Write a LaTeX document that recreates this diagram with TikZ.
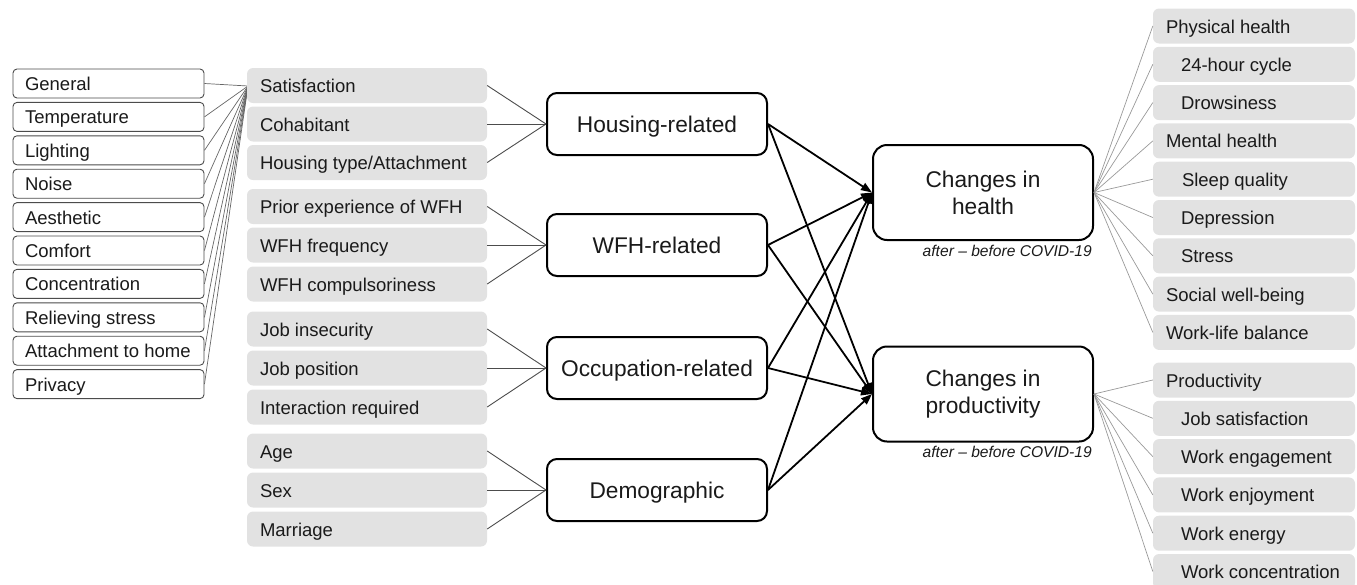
\documentclass[tikz,border=0pt]{standalone}
\usepackage{fontspec}
\setmainfont{Liberation Sans}
\usetikzlibrary{arrows.meta}
\definecolor{boxgray}{HTML}{E2E2E2}
\definecolor{txt}{HTML}{1A1A1A}
\newcommand{\lw}[2]{\makebox[#1][l]{#2}}
\begin{document}
\begin{tikzpicture}[x=1pt,y=-1pt,
  wbox/.style={draw=black!70, line width=0.9pt, rounded corners=4pt, fill=white,
    minimum height=29pt, inner xsep=12pt, inner ysep=0pt,
    text height=15.3pt, text depth=1.3pt,
    font=\fontsize{18.5}{20}\selectfont, text=txt},
  gbox/.style={fill=boxgray, rounded corners=6pt, minimum height=35pt,
    inner xsep=13pt, inner ysep=0pt, text height=15.3pt, text depth=1.3pt,
    font=\fontsize{18.5}{20}\selectfont, text=txt},
  rbox/.style={gbox},
  mbase/.style={draw=black, line width=2pt, fill=white,
    minimum width=220pt, inner sep=0pt,
    font=\fontsize{22.7}{27}\selectfont, text=txt},
  mbox/.style={mbase, rounded corners=10pt, minimum height=62pt,
    text height=19.5pt, text depth=2.1pt},
  bbox/.style={mbase, minimum height=95pt, rounded corners=14pt, align=center},
  captext/.style={anchor=east, inner sep=0pt, font=\fontsize{15.6}{18}\selectfont\itshape, text=txt},
  lfan/.style={draw=black!60, line width=0.7pt},
  gline/.style={draw=black!70, line width=0.9pt},
  rfan/.style={draw=black!40, line width=0.7pt},
  arr/.style={draw=black, line width=1.8pt, -{Triangle[length=11pt,width=8pt]}}
]
\clip (0,0) rectangle (1357,584);

% left white boxes
\foreach \t [count=\i] in {General,Temperature,Lighting,Noise,Aesthetic,Comfort,Concentration,Relieving stress,Attachment to home,Privacy}
  \node[wbox] (l\i) at (108.5, 50.1+33.4*\i) {\lw{167pt}{\t}};
\coordinate (cv) at (248,86);
\foreach \i in {1,...,10} \draw[lfan] (l\i.east) -- (cv);

% grey factor boxes
\node[gbox] (g1)  at (367,85.5) {\lw{214pt}{Satisfaction}};
\node[gbox] (g2)  at (367,124)  {\lw{214pt}{Cohabitant}};
\node[gbox] (g3)  at (367,162.5){\lw{214pt}{Housing type/Attachment}};
\node[gbox] (g4)  at (367,206.5){\lw{214pt}{Prior experience of WFH}};
\node[gbox] (g5)  at (367,245)  {\lw{214pt}{WFH frequency}};
\node[gbox] (g6)  at (367,284)  {\lw{214pt}{WFH compulsoriness}};
\node[gbox] (g7)  at (367,329)  {\lw{214pt}{Job insecurity}};
\node[gbox] (g8)  at (367,368)  {\lw{214pt}{Job position}};
\node[gbox] (g9)  at (367,407)  {\lw{214pt}{Interaction required}};
\node[gbox] (g10) at (367,451)  {\lw{214pt}{Age}};
\node[gbox] (g11) at (367,490)  {\lw{214pt}{Sex}};
\node[gbox] (g12) at (367,529)  {\lw{214pt}{Marriage}};

% middle category boxes
\node[mbox] (m1) at (657,124) {Housing-related};
\node[mbox] (m2) at (657,245) {WFH-related};
\node[mbox] (m3) at (657,368) {Occupation-related};
\node[mbox] (m4) at (657,490) {Demographic};

\foreach \i in {1,2,3} \draw[gline] (g\i.east) -- (m1.west);
\foreach \i in {4,5,6} \draw[gline] (g\i.east) -- (m2.west);
\foreach \i in {7,8,9} \draw[gline] (g\i.east) -- (m3.west);
\foreach \i in {10,11,12} \draw[gline] (g\i.east) -- (m4.west);

% outcome boxes
\node[bbox] (H) at (983,192.5) {Changes in\\health};
\node[bbox] (P) at (983,394) {Changes in\\productivity};
\node[captext] (c1) at (1092,251) {after -- before COVID-19};
\node[captext] (c2) at (1092,452) {after -- before COVID-19};

\foreach \i in {1,...,4} {
  \draw[arr] (m\i.east) -- (H.west);
  \draw[arr] (m\i.east) -- (P.west);
}

% right boxes: health
\node[rbox] (r1) at (1254,26)    {\lw{176pt}{Physical health}};
\node[rbox] (r2) at (1254,64.3)  {\lw{176pt}{\hspace*{15pt}24-hour cycle}};
\node[rbox] (r3) at (1254,102.6) {\lw{176pt}{\hspace*{15pt}Drowsiness}};
\node[rbox] (r4) at (1254,140.9) {\lw{176pt}{Mental health}};
\node[rbox] (r5) at (1254,179.2) {\lw{176pt}{\hspace*{16pt}Sleep quality}};
\node[rbox] (r6) at (1254,217.5) {\lw{176pt}{\hspace*{15pt}Depression}};
\node[rbox] (r7) at (1254,255.8) {\lw{176pt}{\hspace*{15pt}Stress}};
\node[rbox] (r8) at (1254,294.1) {\lw{176pt}{Social well-being}};
\node[rbox] (r9) at (1254,332.4) {\lw{176pt}{Work-life balance}};
\foreach \i in {1,...,9} \draw[rfan] (H.east) -- (r\i.west);

% right boxes: productivity
\node[rbox] (s1) at (1254,380)   {\lw{176pt}{Productivity}};
\node[rbox] (s2) at (1254,418.3) {\lw{176pt}{\hspace*{15pt}Job satisfaction}};
\node[rbox] (s3) at (1254,456.6) {\lw{176pt}{\hspace*{15pt}Work engagement}};
\node[rbox] (s4) at (1254,494.9) {\lw{176pt}{\hspace*{15pt}Work enjoyment}};
\node[rbox] (s5) at (1254,533.2) {\lw{176pt}{\hspace*{15pt}Work energy}};
\node[rbox] (s6) at (1254,571.5) {\lw{176pt}{\hspace*{15pt}Work concentration}};
\foreach \i in {1,...,6} \draw[rfan] (P.east) -- (s\i.west);
\end{tikzpicture}
\end{document}
